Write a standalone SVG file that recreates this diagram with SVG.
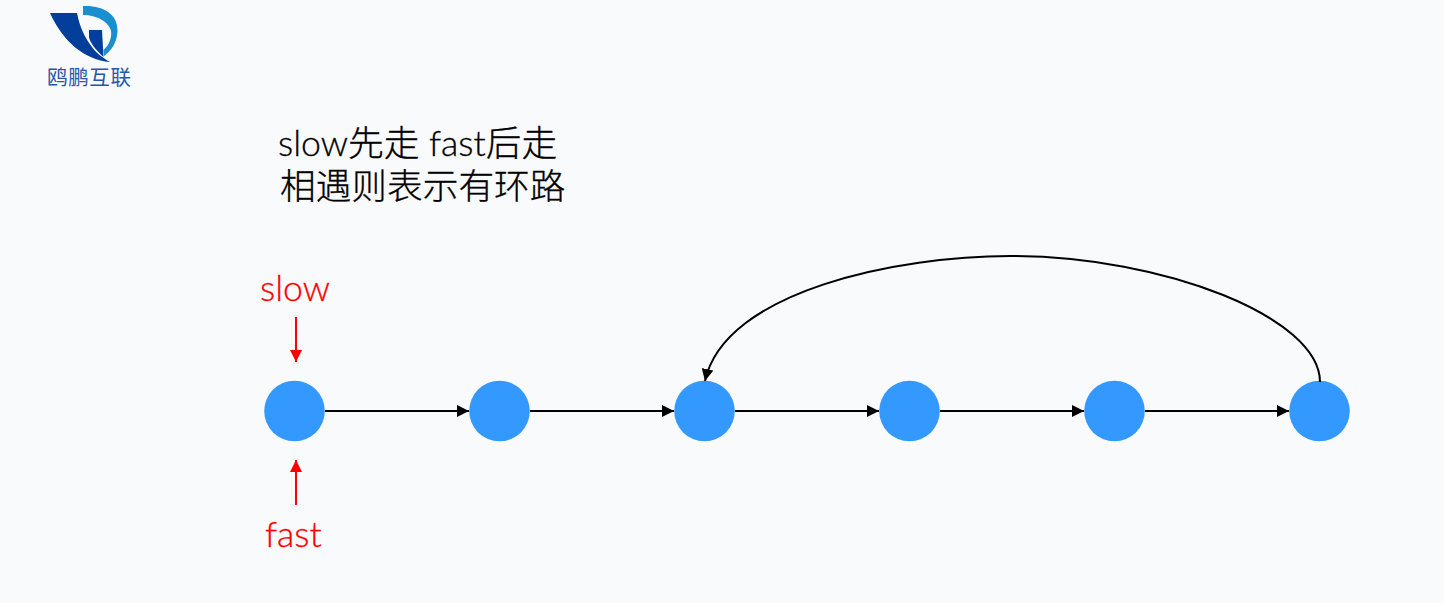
<svg xmlns="http://www.w3.org/2000/svg" width="1444" height="603" viewBox="0 0 1444 603">
<style>
.n{fill:#3399ff}
.c{fill:none;stroke:#000;stroke-width:2}
.r{fill:none;stroke:#f00;stroke-width:2}
.t{font-family:"Lato","Noto Sans CJK SC",sans-serif;font-weight:300;font-size:35.700px;stroke:#000;stroke-width:.3px}
.red{fill:#f00;stroke:#f00}
</style>
<defs>
<marker id="a" markerUnits="userSpaceOnUse" markerWidth="12" markerHeight="12" refX="12" refY="6" orient="auto"><path d="M0 0L12 6L0 12Z" fill="#000"/></marker>
<marker id="b" markerUnits="userSpaceOnUse" markerWidth="12" markerHeight="12" refX="12" refY="6" orient="auto"><path d="M0 0L12 6L0 12Z" fill="#f00"/></marker>
</defs>
<rect width="1444" height="603" fill="#f9fafc"/>
<g id="logo">
<path d="M50 13L77 13C80 28 85 38 92 47C96 53 103 58 110 62C85 60 63 42 50 13Z" fill="#023e9a"/>
<path d="M89 30L102 30L103.500 57C96 50 90 43 89 37Z" fill="#023e9a"/>
<path d="M83 6C103 5 118 14 117.500 31C117 43 111 51 104 56L103.500 50C109 45 112 38 111 31C109 22 97 15 83 15Z" fill="#1a8fd0"/>
<text x="47" y="85" font-family="'Noto Sans CJK SC',sans-serif" font-size="20.500" fill="#2a56a8" textLength="84">鸥鹏互联</text>
</g>
<g id="title">
<text class="t" x="278" y="156">slow先走 fast后走</text>
<text class="t" x="280" y="199">相遇则表示有环路</text>
</g>
<g id="node1"><circle class="n" cx="294.500" cy="411" r="30.300"/></g>
<g id="node2"><circle class="n" cx="499.500" cy="411" r="30.300"/></g>
<g id="node3"><circle class="n" cx="704.500" cy="411" r="30.300"/></g>
<g id="node4"><circle class="n" cx="909.500" cy="411" r="30.300"/></g>
<g id="node5"><circle class="n" cx="1114.500" cy="411" r="30.300"/></g>
<g id="node6"><circle class="n" cx="1319.500" cy="411" r="30.300"/></g>
<g id="connectors">
<path class="c" d="M325 411H469" marker-end="url(#a)"/>
<path class="c" d="M530 411H674" marker-end="url(#a)"/>
<path class="c" d="M735 411H879" marker-end="url(#a)"/>
<path class="c" d="M940 411H1084" marker-end="url(#a)"/>
<path class="c" d="M1145 411H1289" marker-end="url(#a)"/>
<path class="c" d="M1320 382C1320 318 1165 256 1010 256C900 256 725 290 705 381" marker-end="url(#a)"/>
<path class="r" d="M296 317V362" marker-end="url(#b)"/>
<path class="r" d="M296 505V460" marker-end="url(#b)"/>
</g>
<g id="labels">
<text class="t red" x="260" y="301">slow</text>
<text class="t red" x="265" y="547">fast</text>
</g>
</svg>
